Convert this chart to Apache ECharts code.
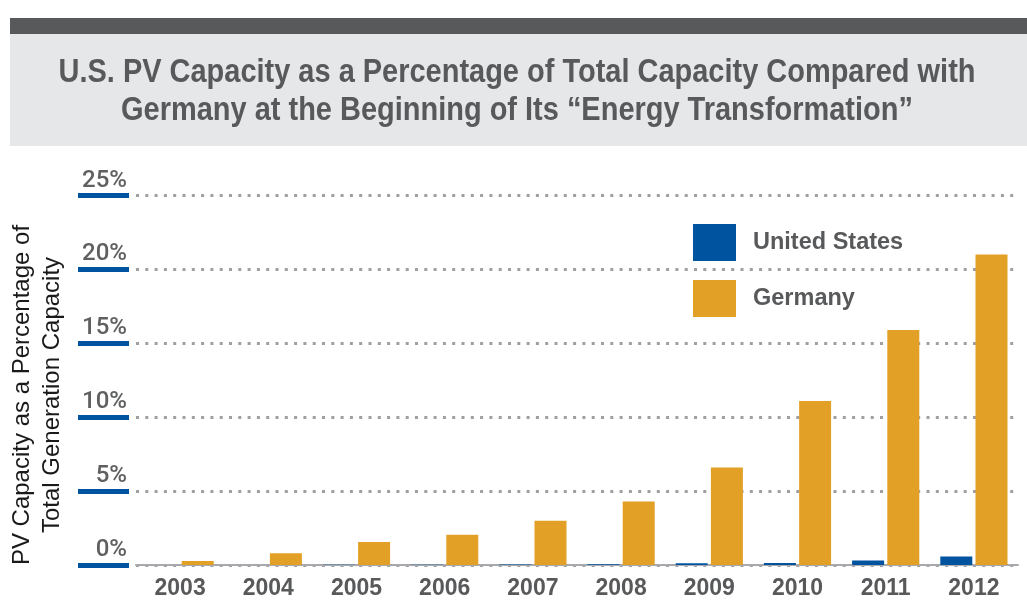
<!DOCTYPE html>
<html>
<head>
<meta charset="utf-8">
<script src="https://cdn.jsdelivr.net/npm/echarts@6/dist/echarts.min.js"></script>
<style>html,body{margin:0;padding:0;background:#fff}#c{width:1027px;height:600px}</style>
</head>
<body>
<div id="c"></div>
<script>
const categories = ['2003','2004','2005','2006','2007','2008','2009','2010','2011','2012'];
const usValues = [0, 0, 0.02, 0.02, 0.03, 0.05, 0.12, 0.13, 0.3, 0.57];
const germanyValues = [0.27, 0.8, 1.55, 2.04, 3.0, 4.3, 6.6, 11.1, 15.9, 21.0];
const yTicks = [0, 5, 10, 15, 20, 25];
const titleLines = ['U.S. PV Capacity as a Percentage of Total Capacity Compared with', 'Germany at the Beginning of Its \u201cEnergy Transformation\u201d'];
const yTitle = ['PV Capacity as a Percentage of', 'Total Generation Capacity'];

const BLUE = '#00549f', ORANGE = '#e3a027', GRAY = '#58595b';
const TITLE_FONT = 'bold 33px "Liberation Sans", Arial, sans-serif';
const ctx = document.createElement('canvas').getContext('2d');
ctx.font = TITLE_FONT;
const titleScale = 917 / ctx.measureText(titleLines[0]).width;

const chart = echarts.init(document.getElementById('c'), null, {renderer: 'canvas'});
chart.setOption({
  animation: false,
  graphic: [
    {type: 'rect', shape: {x: 10, y: 18, width: 1017, height: 16}, style: {fill: '#58595b'}, z: 0},
    {type: 'rect', shape: {x: 10, y: 34, width: 1017, height: 112}, style: {fill: '#e6e7e8'}, z: 0},
    {type: 'text', x: 517, y: 73, scaleX: titleScale, z: 1, style: {text: titleLines[0], fill: GRAY, font: TITLE_FONT, textAlign: 'center', textVerticalAlign: 'middle'}},
    {type: 'text', x: 517, y: 111, scaleX: titleScale, z: 1, style: {text: titleLines[1], fill: GRAY, font: TITLE_FONT, textAlign: 'center', textVerticalAlign: 'middle'}},
    {type: 'text', x: 37, y: 395, rotation: Math.PI / 2, z: 1, style: {text: yTitle.join('\n'), fill: '#1a1a1a', font: '24px "Liberation Sans", Arial, sans-serif', textAlign: 'center', textVerticalAlign: 'middle', lineHeight: 30}}
  ],
  legend: {
    orient: 'vertical', left: 688, top: 219, itemWidth: 43, itemHeight: 37, itemGap: 19, icon: 'rect',
    textStyle: {color: GRAY, fontSize: 23.5, fontWeight: 'bold', fontFamily: '"Liberation Sans", Arial, sans-serif', padding: [9, 0, 0, 12]},
    data: ['United States', 'Germany']
  },
  grid: {left: 136, right: 9, top: 195.5, bottom: 32.5},
  xAxis: {
    type: 'category', data: categories,
    axisLine: {lineStyle: {color: '#a7a9ac', width: 2}},
    axisTick: {show: false},
    axisLabel: {color: GRAY, fontSize: 23, fontWeight: 'bold', fontFamily: '"Liberation Sans", Arial, sans-serif', margin: 12}
  },
  yAxis: {
    type: 'value', min: 0, max: 25, interval: 5, offset: 7,
    axisLine: {show: false},
    axisTick: {show: true, length: 51, lineStyle: {color: BLUE, width: 5}},
    axisLabel: {
      color: '#5f6062', fontSize: 24, fontWeight: 500, fontFamily: 'Roboto, "Liberation Sans", Arial, sans-serif', margin: 2,
      verticalAlign: 'bottom', padding: [0, 0, 3, 0],
      formatter: v => yTicks.includes(v) ? v + '%' : ''
    },
    splitLine: {show: true, lineStyle: {color: '#9d9fa2', width: 3, type: [3, 6.3]}}
  },
  series: [
    {name: 'United States', type: 'bar', data: usValues, barWidth: 32, barGap: '10%', itemStyle: {color: BLUE}},
    {name: 'Germany', type: 'bar', data: germanyValues, barWidth: 32, barGap: '10%', itemStyle: {color: ORANGE}}
  ]
});
</script>
</body>
</html>
